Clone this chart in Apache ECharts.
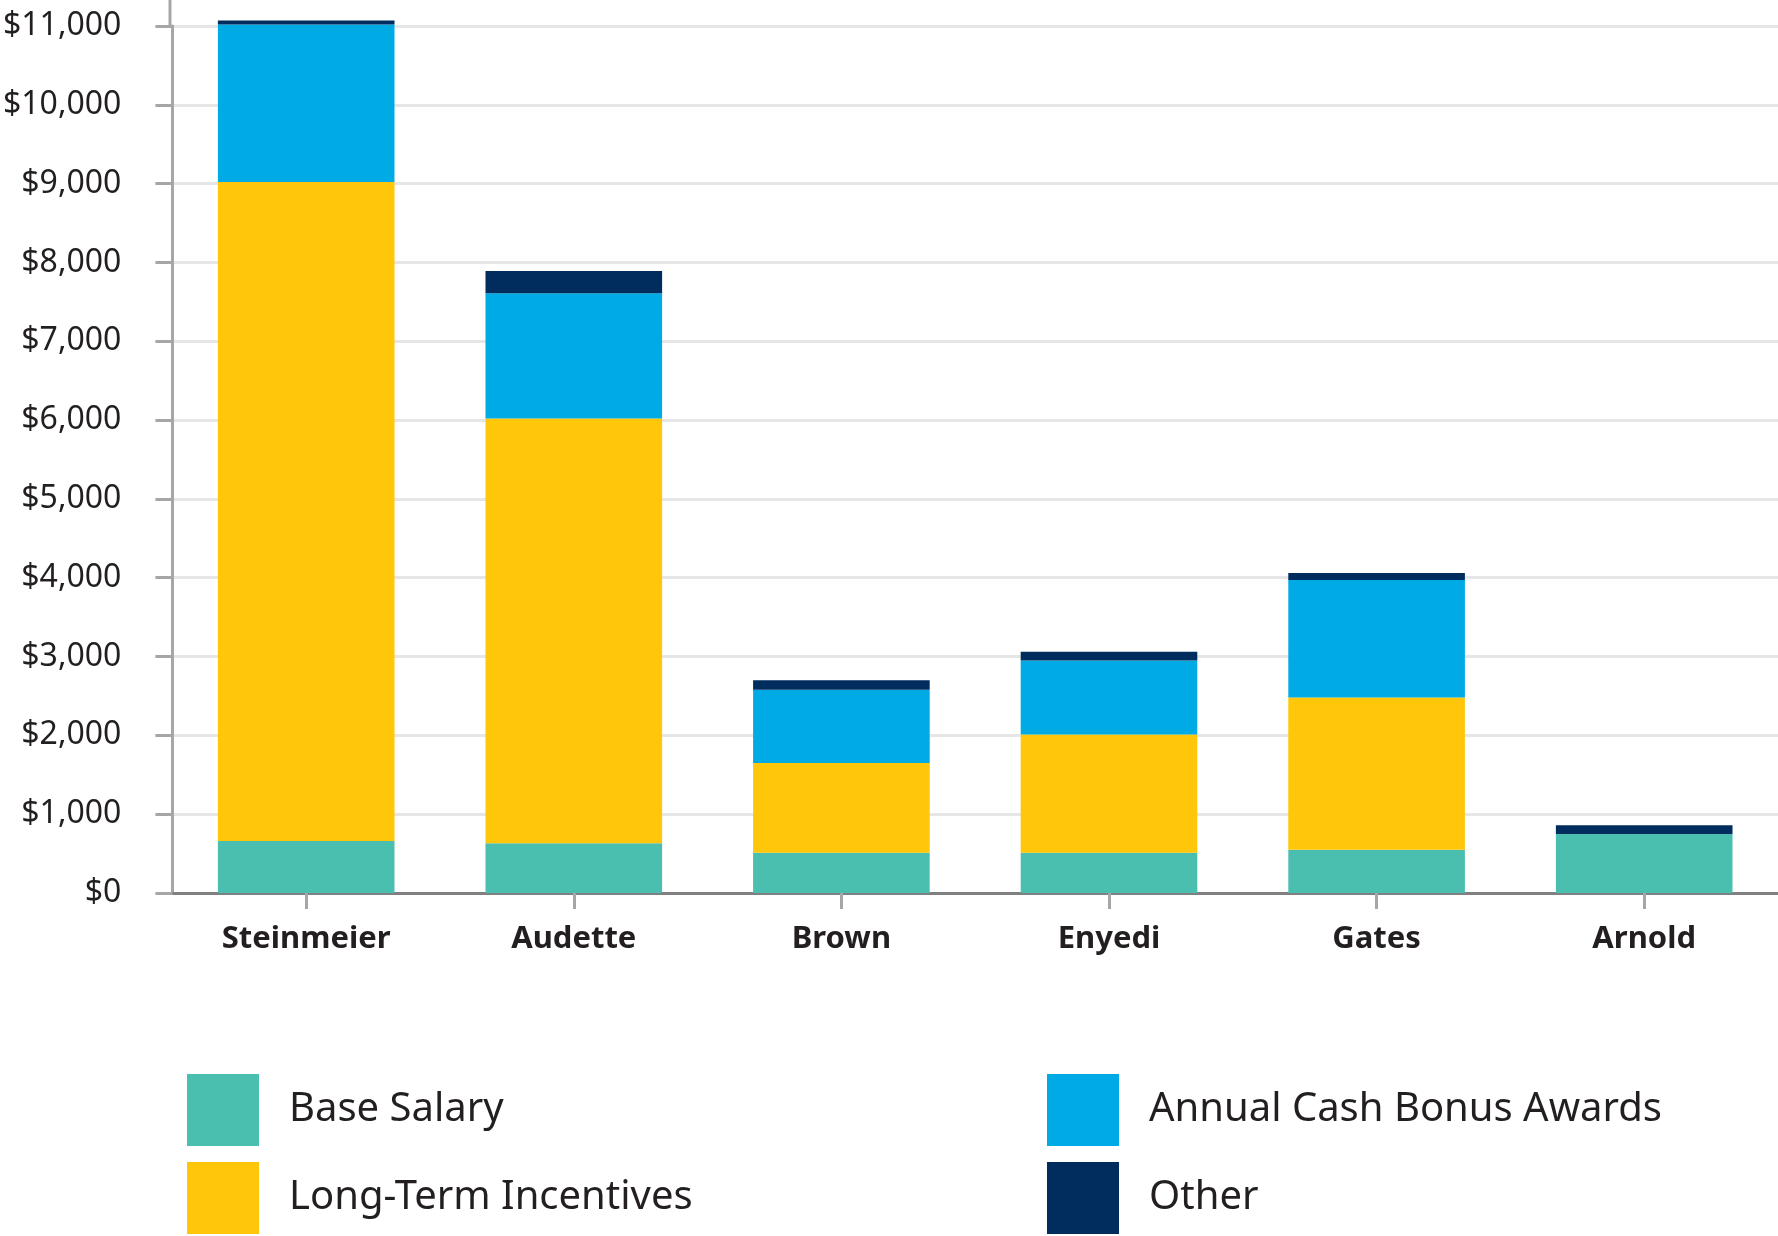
<!DOCTYPE html>
<html>
<head>
<meta charset="utf-8">
<script src="https://cdn.jsdelivr.net/npm/echarts@6/dist/echarts.min.js"></script>
<style>
html,body{margin:0;padding:0;background:#fff;}
#chart{width:1778px;height:1236px;}
</style>
</head>
<body>
<div id="chart"></div>
<script>
const categories = ['Steinmeier', 'Audette', 'Brown', 'Enyedi', 'Gates', 'Arnold'];
const baseSalary = [660, 630, 510, 510, 550, 750];
const longTermIncentives = [8360, 5390, 1140, 1500, 1930, 0];
const annualCashBonus = [2000, 1590, 930, 940, 1490, 0];
const other = [50, 280, 120, 110, 90, 110];
const yTicks = { min: 0, max: 11000, interval: 1000 };

const colors = {
  base: '#4BBFAF',
  lti: '#FFC60A',
  bonus: '#00AAE4',
  other: '#002C5E'
};

const chart = echarts.init(document.getElementById('chart'));
const fontFamily = '"Noto Sans", "DejaVu Sans", sans-serif';

function barSeries(name, data, color) {
  return {
    name: name,
    type: 'bar',
    stack: 'total',
    data: data,
    barWidth: '66%',
    clip: false,
    itemStyle: { color: color },
    emphasis: { disabled: true }
  };
}

const legendText = { fontFamily: fontFamily, fontSize: 40, color: '#231F20', padding: [0, 0, 0, 25] };

function legendItem(name, left, top) {
  return {
    orient: 'horizontal', left: left, top: top,
    itemWidth: 72, itemHeight: 72, icon: 'rect',
    data: [name], textStyle: legendText, selectedMode: false, padding: 0
  };
}

chart.setOption({
  animation: false,
  backgroundColor: '#ffffff',
  grid: { left: 170, right: 0, top: 26, bottom: 343, containLabel: false },
  xAxis: {
    type: 'category',
    data: categories,
    axisLine: { show: true, lineStyle: { color: '#808080', width: 3 } },
    axisTick: { show: true, alignWithLabel: true, length: 16, lineStyle: { color: '#A6A6A6', width: 3 } },
    axisLabel: { margin: 31, fontFamily: fontFamily, fontSize: 31, fontWeight: 'bold', color: '#231F20' }
  },
  yAxis: {
    type: 'value',
    min: yTicks.min,
    max: yTicks.max,
    interval: yTicks.interval,
    axisLine: { show: true, lineStyle: { color: '#A6A6A6', width: 3 } },
    axisTick: { show: true, length: 17, lineStyle: { color: '#A6A6A6', width: 3 } },
    splitLine: { show: true, lineStyle: { color: '#E6E6E6', width: 3 } },
    axisLabel: {
      margin: 51,
      fontFamily: fontFamily,
      fontSize: 32,
      color: '#231F20',
      formatter: function (v) { return '$' + v.toLocaleString('en-US'); }
    }
  },
  legend: [
    legendItem('Base Salary', 187, 1074),
    legendItem('Long-Term Incentives', 187, 1162),
    legendItem('Annual Cash Bonus Awards', 1047, 1074),
    legendItem('Other', 1047, 1162)
  ],
  graphic: [
    { type: 'line', shape: { x1: 170, y1: 0, x2: 170, y2: 27 }, style: { stroke: '#A6A6A6', lineWidth: 3 }, silent: true }
  ],
  series: [
    barSeries('Base Salary', baseSalary, colors.base),
    barSeries('Long-Term Incentives', longTermIncentives, colors.lti),
    barSeries('Annual Cash Bonus Awards', annualCashBonus, colors.bonus),
    barSeries('Other', other, colors.other)
  ]
});
</script>
</body>
</html>
